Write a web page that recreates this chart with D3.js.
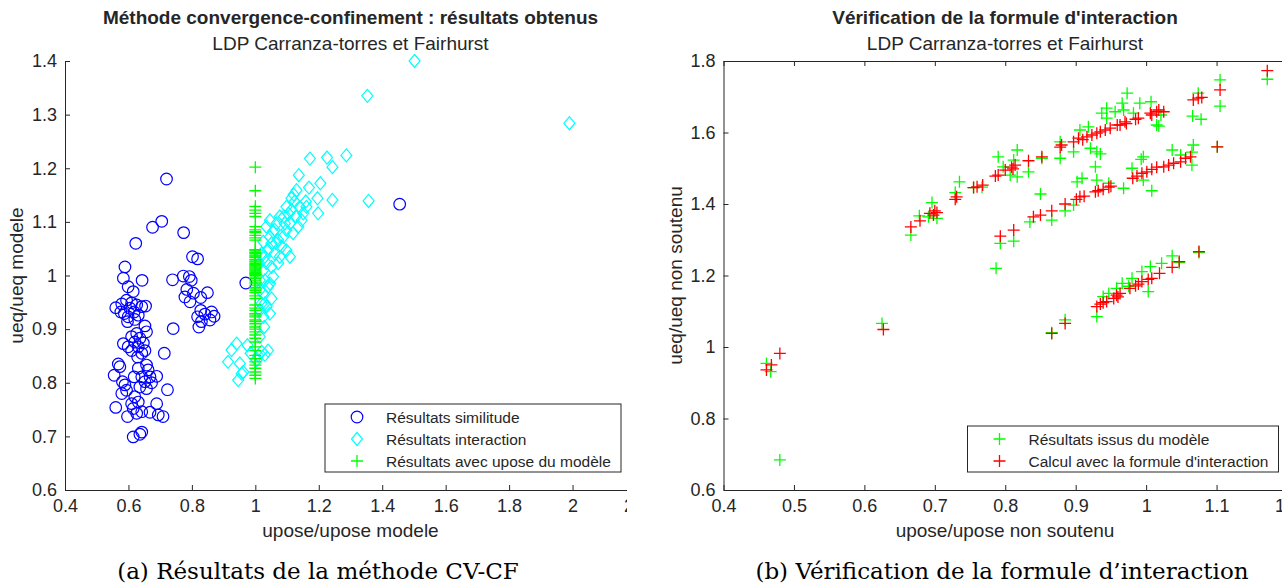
<!DOCTYPE html>
<html>
<head>
<meta charset="utf-8">
<script src="https://cdn.jsdelivr.net/npm/d3@7"></script>
<style>
  body { margin: 0; background: #fff; }
  svg text { font-family: "Liberation Sans", Arial, Helvetica, sans-serif; fill: #262626; }
  .caption { font-family: "DejaVu Serif", "Liberation Serif", serif; fill: #000; }
</style>
</head>
<body>
<svg id="fig" width="1282" height="587"></svg>
<script>
/* Two MATLAB-style scatter panels: CV-CF results (a) and interaction-formula check (b) */

// ---- panel (a) data ------------------------------------------------------
var leftXTicks = [0.4, 0.6, 0.8, 1, 1.2, 1.4, 1.6, 1.8, 2, 2.2];
var leftYTicks = [0.6, 0.7, 0.8, 0.9, 1, 1.1, 1.2, 1.3, 1.4];

// Résultats similitude (blue circles)
var simPts = [
  [0.720, 1.180], [0.705, 1.101], [0.676, 1.090], [0.774, 1.080], [0.623, 1.060],
  [0.802, 1.035], [0.818, 1.031], [0.589, 1.016], [0.584, 0.995], [0.643, 0.991],
  [0.739, 0.992], [0.773, 0.999], [0.792, 0.998], [0.798, 0.991], [0.599, 0.979],
  [0.615, 0.970], [0.784, 0.974], [0.805, 0.967], [0.778, 0.960], [0.794, 0.951],
  [0.828, 0.959], [0.849, 0.968], [0.560, 0.940], [0.579, 0.947], [0.594, 0.954],
  [0.610, 0.949], [0.626, 0.945], [0.642, 0.942], [0.654, 0.943], [0.587, 0.929],
  [0.599, 0.923], [0.618, 0.932], [0.631, 0.926], [0.576, 0.932], [0.605, 0.939],
  [0.597, 0.914], [0.620, 0.918], [0.828, 0.935], [0.841, 0.928], [0.862, 0.932],
  [0.870, 0.924], [0.857, 0.917], [0.818, 0.923], [0.830, 0.914], [0.822, 0.904],
  [0.741, 0.901], [0.652, 0.906], [0.657, 0.895], [0.626, 0.892], [0.610, 0.886],
  [0.636, 0.883], [0.647, 0.874], [0.584, 0.873], [0.599, 0.867], [0.620, 0.876],
  [0.631, 0.867], [0.652, 0.860], [0.610, 0.860], [0.642, 0.855], [0.629, 0.848],
  [0.713, 0.855], [0.568, 0.835], [0.573, 0.830], [0.555, 0.814], [0.657, 0.833],
  [0.662, 0.824], [0.631, 0.827], [0.618, 0.811], [0.642, 0.811], [0.668, 0.811],
  [0.689, 0.812], [0.652, 0.802], [0.673, 0.800], [0.657, 0.789], [0.636, 0.792],
  [0.723, 0.787], [0.581, 0.802], [0.589, 0.796], [0.594, 0.786], [0.579, 0.780],
  [0.620, 0.774], [0.631, 0.764], [0.610, 0.761], [0.689, 0.761], [0.668, 0.745],
  [0.694, 0.740], [0.709, 0.737], [0.560, 0.754], [0.597, 0.737], [0.615, 0.752],
  [0.626, 0.743], [0.642, 0.746], [0.615, 0.699], [0.642, 0.708], [0.636, 0.704],
  [0.970, 0.986], [1.455, 1.133]
];

// Résultats interaction (cyan diamonds)
var interPts = [
  [1.502, 1.400], [1.353, 1.335], [1.990, 1.284], [1.357, 1.139], [1.287, 1.224],
  [1.226, 1.220], [1.172, 1.218], [1.243, 1.202], [1.137, 1.187], [1.205, 1.172],
  [1.169, 1.164], [1.243, 1.141], [1.196, 1.144], [1.198, 1.116], [1.121, 1.151],
  [1.159, 1.138], [1.130, 1.159], [1.114, 1.144], [1.161, 1.128], [1.124, 1.138],
  [1.114, 1.122], [1.140, 1.128], [1.128, 1.110], [1.146, 1.103], [1.109, 1.097],
  [1.135, 1.091], [1.098, 1.085], [1.119, 1.079], [1.088, 1.072], [1.067, 1.097],
  [1.046, 1.103], [1.035, 1.091], [1.056, 1.082], [1.072, 1.066], [1.051, 1.060],
  [1.083, 1.054], [1.025, 1.063], [1.040, 1.047], [1.061, 1.041], [1.098, 1.047],
  [1.109, 1.035], [1.020, 1.041], [1.035, 1.023], [1.051, 1.016], [1.072, 1.023],
  [1.025, 1.010], [1.056, 0.998], [1.014, 0.991], [1.040, 0.979], [1.025, 0.967],
  [1.051, 0.957], [1.020, 0.948], [1.035, 0.942], [1.025, 0.923], [1.028, 0.904],
  [1.014, 0.886], [1.020, 0.858], [1.009, 0.851], [1.004, 0.842], [0.941, 0.873],
  [0.925, 0.861], [0.914, 0.839], [0.951, 0.836], [0.962, 0.820], [0.946, 0.805],
  [0.957, 0.817], [1.098, 1.128], [1.151, 1.116], [1.077, 1.110], [1.093, 1.097],
  [1.061, 1.085], [1.046, 1.072], [1.077, 1.035], [1.030, 0.991], [1.046, 0.985],
  [1.014, 0.973], [1.030, 0.948], [1.046, 0.929], [1.014, 0.935], [1.010, 1.020],
  [1.030, 1.035], [1.065, 1.060], [1.090, 1.110], [1.105, 1.115], [0.975, 0.870],
  [0.985, 0.855], [1.030, 0.852], [1.040, 0.860]
];

// Résultats avec upose du modèle (green +, all at x = 1)
var modelX = 1;
var modelY = [
  1.202, 1.158, 1.129, 1.122, 1.116, 1.110, 1.091, 1.085, 1.082, 1.080,
  1.075, 1.070, 1.066, 1.048, 1.046, 1.043, 1.041, 1.038, 1.036, 1.034,
  1.030, 1.027, 1.025, 1.022, 1.020, 1.018, 1.016, 1.014, 1.012, 1.010,
  1.008, 1.006, 1.004, 1.002, 1.000, 0.997, 0.994, 0.990, 0.986, 0.982,
  0.978, 0.975, 0.972, 0.968, 0.962, 0.957, 0.945, 0.939, 0.935, 0.929,
  0.926, 0.923, 0.917, 0.914, 0.910, 0.904, 0.900, 0.895, 0.889, 0.883,
  0.876, 0.867, 0.860, 0.851, 0.845, 0.839, 0.833, 0.827, 0.820, 0.814,
  0.808
];

// ---- panel (b) data ------------------------------------------------------
var rightXTicks = [0.4, 0.5, 0.6, 0.7, 0.8, 0.9, 1, 1.1, 1.2];
var rightYTicks = [0.6, 0.8, 1, 1.2, 1.4, 1.6, 1.8];

// Résultats issus du modèle (green +)
var issusPts = [
  [0.461, 0.954], [0.467, 0.931], [0.480, 0.684], [0.625, 1.066], [0.666, 1.313],
  [0.678, 1.367], [0.691, 1.364], [0.696, 1.404], [0.703, 1.360], [0.729, 1.432],
  [0.735, 1.462], [0.755, 1.446], [0.767, 1.447], [0.790, 1.532], [0.797, 1.504],
  [0.807, 1.481], [0.812, 1.523], [0.817, 1.551], [0.817, 1.476], [0.833, 1.490],
  [0.852, 1.528], [0.878, 1.574], [0.878, 1.528], [0.897, 1.546], [0.906, 1.607],
  [0.918, 1.616], [0.921, 1.556], [0.930, 1.546], [0.935, 1.540], [0.928, 1.504],
  [0.937, 1.654], [0.944, 1.668], [0.944, 1.640], [0.956, 1.658], [0.966, 1.682],
  [0.968, 1.663], [0.973, 1.710], [0.982, 1.654], [0.991, 1.682], [1.007, 1.686],
  [1.015, 1.621], [1.018, 1.618], [1.021, 1.649], [1.066, 1.646], [1.074, 1.710],
  [1.078, 1.637], [1.105, 1.747], [1.105, 1.674], [1.172, 1.749],
  [0.787, 1.220], [0.793, 1.290], [0.812, 1.296], [0.835, 1.350], [0.850, 1.428],
  [0.866, 1.355], [0.885, 1.381], [0.897, 1.397], [0.902, 1.462], [0.909, 1.472],
  [0.930, 1.467], [0.947, 1.458], [0.968, 1.444], [0.980, 1.500], [0.993, 1.525],
  [0.996, 1.532], [0.996, 1.467], [1.008, 1.437], [1.037, 1.551], [1.049, 1.537],
  [1.065, 1.545], [1.067, 1.565], [1.065, 1.509], [1.101, 1.560],
  [0.866, 1.040], [0.885, 1.076], [0.930, 1.085], [0.939, 1.141], [0.947, 1.150],
  [0.958, 1.164], [0.966, 1.178], [0.975, 1.170], [0.980, 1.192], [0.994, 1.211],
  [1.003, 1.155], [1.006, 1.225], [1.022, 1.234], [1.037, 1.255], [1.047, 1.236],
  [1.075, 1.264]
];

// Calcul avec la formule d'interaction (red +)
var calculPts = [
  [0.461, 0.936], [0.468, 0.950], [0.480, 0.982], [0.627, 1.049], [0.666, 1.336],
  [0.679, 1.353], [0.693, 1.374], [0.698, 1.369], [0.700, 1.381], [0.703, 1.376],
  [0.729, 1.413], [0.731, 1.420], [0.755, 1.446], [0.760, 1.448], [0.768, 1.453],
  [0.786, 1.478], [0.790, 1.481], [0.800, 1.495], [0.809, 1.503], [0.814, 1.509],
  [0.811, 1.498], [0.833, 1.521], [0.852, 1.532], [0.878, 1.559], [0.880, 1.565],
  [0.897, 1.574], [0.904, 1.584], [0.910, 1.580], [0.916, 1.588], [0.923, 1.593],
  [0.930, 1.598], [0.935, 1.602], [0.942, 1.607], [0.949, 1.612], [0.959, 1.621],
  [0.963, 1.621], [0.970, 1.630], [0.972, 1.625], [0.985, 1.637], [0.989, 1.640],
  [1.006, 1.654], [1.008, 1.649], [1.015, 1.658], [1.018, 1.663], [1.025, 1.658],
  [1.067, 1.691], [1.074, 1.696], [1.079, 1.698], [1.105, 1.719], [1.172, 1.773],
  [0.793, 1.310], [0.812, 1.327], [0.840, 1.364], [0.850, 1.369], [0.866, 1.381],
  [0.885, 1.400], [0.901, 1.413], [0.906, 1.420], [0.912, 1.422], [0.928, 1.434],
  [0.932, 1.437], [0.939, 1.441], [0.947, 1.447], [0.950, 1.450], [0.981, 1.472],
  [0.987, 1.478], [0.994, 1.486], [1.001, 1.490], [1.008, 1.497], [1.015, 1.503],
  [1.025, 1.504], [1.032, 1.509], [1.039, 1.514], [1.049, 1.518], [1.056, 1.528],
  [1.063, 1.532], [1.101, 1.560],
  [0.866, 1.038], [0.885, 1.066], [0.930, 1.113], [0.935, 1.120], [0.939, 1.124],
  [0.944, 1.127], [0.954, 1.136], [0.958, 1.145], [0.963, 1.150], [0.960, 1.140],
  [0.977, 1.164], [0.985, 1.171], [0.989, 1.176], [0.994, 1.183], [1.003, 1.189],
  [1.008, 1.192], [1.019, 1.206], [1.037, 1.223], [1.047, 1.239], [1.075, 1.267]
];

(function () {
  'use strict';

  var svg = d3.select('#fig');
  var AXIS = '#262626';
  var BLUE = '#0000ff', CYAN = '#00ffff', GREEN = '#00ff00', RED = '#ff0000';

  function fmt(v) { return String(+v.toFixed(1)); }

  /* marker shapes, all centred on (0,0) */
  function plusPath(h) { return 'M' + (-h) + ',0H' + h + 'M0,' + (-h) + 'V' + h; }
  function diamondPath(w, h) { return 'M0,' + (-h) + 'L' + w + ',0L0,' + h + 'L' + (-w) + ',0Z'; }

  function drawMarker(g, kind, color, x, y) {
    if (kind === 'circle') {
      g.append('circle').attr('cx', x).attr('cy', y).attr('r', 5.8)
        .attr('fill', 'none').attr('stroke', color).attr('stroke-width', 1.2);
    } else if (kind === 'diamond') {
      g.append('path').attr('d', diamondPath(5.5, 6.5))
        .attr('transform', 'translate(' + x + ',' + y + ')')
        .attr('fill', 'none').attr('stroke', color).attr('stroke-width', 1.2);
    } else {
      g.append('path').attr('d', plusPath(6))
        .attr('transform', 'translate(' + x + ',' + y + ')')
        .attr('fill', 'none').attr('stroke', color).attr('stroke-width', 1.3);
    }
  }

  function scatter(g, pts, xs, ys, kind, color) {
    pts.forEach(function (p) { drawMarker(g, kind, color, xs(p[0]), ys(p[1])); });
  }

  function styleAxis(sel) {
    sel.select('.domain').attr('stroke', AXIS).attr('stroke-width', 1);
    sel.selectAll('.tick line').attr('stroke', AXIS).attr('stroke-width', 1);
    sel.selectAll('.tick text').style('font-size', '18px').attr('fill', '#3a3a3a');
  }

  /* inward ticks like MATLAB */
  function drawAxes(g, xs, ys, xTicks, yTicks, withTop) {
    var y0 = ys.range()[0], x0 = xs.range()[0];
    var gx = g.append('g').attr('transform', 'translate(0,' + y0 + ')')
      .call(d3.axisBottom(xs).tickValues(xTicks).tickFormat(fmt)
        .tickSizeInner(-5).tickSizeOuter(0).tickPadding(9));
    styleAxis(gx);
    var gy = g.append('g').attr('transform', 'translate(' + x0 + ',0)')
      .call(d3.axisLeft(ys).tickValues(yTicks).tickFormat(fmt)
        .tickSizeInner(-5).tickSizeOuter(0).tickPadding(8));
    styleAxis(gy);
    if (withTop) {
      var gt = g.append('g').attr('transform', 'translate(0,' + ys.range()[1] + ')')
        .call(d3.axisTop(xs).tickValues(xTicks).tickFormat('')
          .tickSizeInner(-5).tickSizeOuter(0));
      styleAxis(gt);
    }
  }

  function titles(g, cx, title, xLabel, yLabel, yLabelX, caption, capX) {
    g.append('text').attr('x', cx).attr('y', 24).attr('text-anchor', 'middle')
      .style('font-size', '19px').style('font-weight', 'bold').attr('fill', '#000').text(title);
    g.append('text').attr('x', cx).attr('y', 50).attr('text-anchor', 'middle')
      .style('font-size', '19px').text('LDP Carranza-torres et Fairhurst');
    g.append('text').attr('x', cx).attr('y', 537).attr('text-anchor', 'middle')
      .style('font-size', '19px').text(xLabel);
    g.append('text').attr('transform', 'translate(' + yLabelX + ',275.5) rotate(-90)')
      .attr('text-anchor', 'middle').style('font-size', '19px').text(yLabel);
    g.append('text').attr('class', 'caption').attr('x', capX).attr('y', 579)
      .attr('text-anchor', 'middle').style('font-size', '23px').text(caption);
  }

  function legend(g, box, rows) {
    g.append('rect').attr('x', box[0]).attr('y', box[1])
      .attr('width', box[2]).attr('height', box[3])
      .attr('fill', '#fff').attr('stroke', AXIS).attr('stroke-width', 1);
    rows.forEach(function (r, i) {
      var y = box[1] + 13 + i * 22;
      drawMarker(g, r.kind, r.color, box[0] + 32, y);
      g.append('text').attr('x', box[0] + 61).attr('y', y + 5.5)
        .style('font-size', '15.5px').text(r.label);
    });
  }

  /* ===== Panel (a) ===== */
  svg.append('clipPath').attr('id', 'clipA')
    .append('rect').attr('x', 0).attr('y', 0).attr('width', 627).attr('height', 587);
  var gA = svg.append('g').attr('clip-path', 'url(#clipA)');
  var xA = d3.scaleLinear().domain([0.4, 2.2]).range([65, 636]);
  var yA = d3.scaleLinear().domain([0.6, 1.4]).range([490, 61]);

  var mA = gA.append('g');
  scatter(mA, simPts, xA, yA, 'circle', BLUE);
  scatter(mA, interPts, xA, yA, 'diamond', CYAN);
  scatter(mA, modelY.map(function (v) { return [modelX, v]; }), xA, yA, 'plus', GREEN);

  drawAxes(gA, xA, yA, leftXTicks, leftYTicks, false);
  titles(svg, 350.5, 'Méthode convergence-confinement : résultats obtenus',
    'upose/upose modele', 'ueq/ueq modele', 22.5,
    '(a) Résultats de la méthode CV-CF', 318);
  legend(gA, [325, 404, 296, 68], [
    { kind: 'circle', color: BLUE, label: 'Résultats similitude' },
    { kind: 'diamond', color: CYAN, label: 'Résultats interaction' },
    { kind: 'plus', color: GREEN, label: 'Résultats avec upose du modèle' }
  ]);

  /* ===== Panel (b) ===== */
  var gB = svg.append('g');
  var xB = d3.scaleLinear().domain([0.4, 1.2]).range([723.5, 1287]);
  var yB = d3.scaleLinear().domain([0.6, 1.8]).range([490, 61]);

  var mB = gB.append('g');
  scatter(mB, issusPts, xB, yB, 'plus', GREEN);
  scatter(mB, calculPts, xB, yB, 'plus', RED);

  drawAxes(gB, xB, yB, rightXTicks, rightYTicks, true);
  titles(svg, 1005, 'Vérification de la formule d\'interaction',
    'upose/upose non soutenu', 'ueq/ueq non soutenu', 682,
    '(b) Vérification de la formule d\u2019interaction', 1002);
  legend(gB, [967.5, 426, 311, 46], [
    { kind: 'plus', color: GREEN, label: 'Résultats issus du modèle' },
    { kind: 'plus', color: RED, label: 'Calcul avec la formule d\'interaction' }
  ]);
})();
</script>
</body>
</html>
